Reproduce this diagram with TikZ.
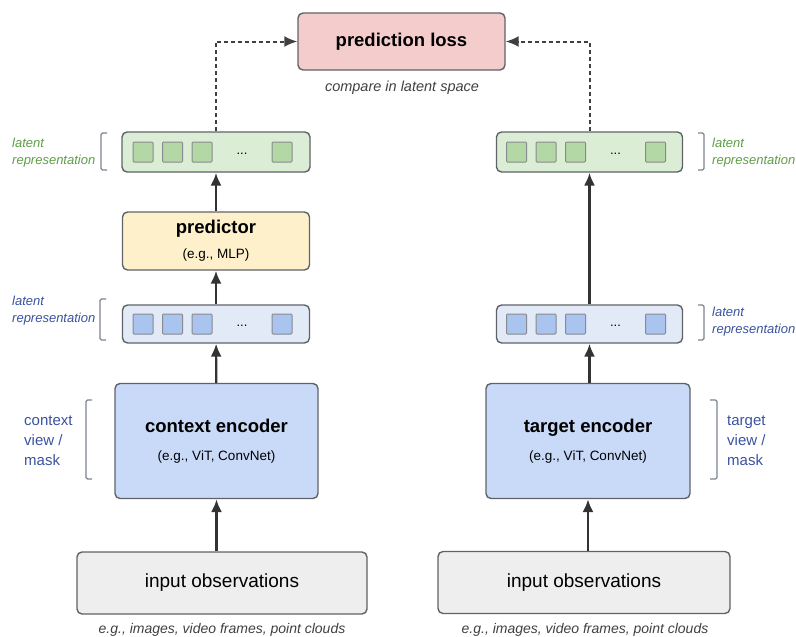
\documentclass[tikz,border=0pt]{standalone}
\usepackage{fontspec}
\setmainfont{Liberation Sans}
\usetikzlibrary{arrows.meta}
\definecolor{lossfill}{HTML}{F4CCCC}
\definecolor{predfill}{HTML}{FDF0CB}
\definecolor{greenfill}{HTML}{DCEDD6}
\definecolor{greensq}{HTML}{B3D8A6}
\definecolor{bluefill}{HTML}{E2EAF8}
\definecolor{bluesq}{HTML}{AAC4F0}
\definecolor{encfill}{HTML}{C9DAF8}
\definecolor{inputfill}{HTML}{EEEEEE}
\definecolor{boxline}{HTML}{5F6368}
\definecolor{greentext}{HTML}{5E9E48}
\definecolor{bluetext}{HTML}{3A52A0}
\definecolor{bracketgray}{HTML}{7B8394}
\tikzset{
  box/.style={draw=boxline, rounded corners=5pt, line width=1.4pt, inner sep=0pt, align=center},
  sq/.style={draw=boxline!75, line width=1pt, minimum size=20pt, inner sep=0pt, rounded corners=1pt},
  flow/.style={line width=2.2pt, draw=black!80, -{Latex[length=13pt,width=11pt]}},
  dashflow/.style={line width=2pt, draw=black!75, dash pattern=on 4pt off 3pt, -{Latex[length=13pt,width=11pt]}},
  bracket/.style={draw=bracketgray, line width=1.4pt, rounded corners=1.5pt},
  big/.style={font=\fontsize{18.5}{22}\selectfont\bfseries},
  note/.style={font=\fontsize{14.5}{17}\selectfont\itshape, text=black!75},
  side/.style={font=\fontsize{13}{17}\selectfont\itshape, align=left, inner sep=0pt}
}
\newcommand{\sub}[2][4pt]{\\[#1]{\fontsize{13.5}{16}\selectfont\mdseries #2}}
\begin{document}
\begin{tikzpicture}[x=1pt, y=-1pt]
    \useasboundingbox (0,0) rectangle (796,637);

    % top: loss
    \node[box, fill=lossfill, minimum width=207, minimum height=57, big] at (401.5, 41.5) (loss) {prediction loss};
    \node[note] at (402, 88) (cmp) {compare in latent space};

    % left column
    \node[box, fill=greenfill, minimum width=188, minimum height=40] at (216, 152) (ltop) {};
    \node[box, fill=predfill, minimum width=187, minimum height=58, big] at (216, 241) (pred) {predictor\sub[3pt]{(e.g., MLP)}};
    \node[box, fill=bluefill, minimum width=187, minimum height=38] at (216, 324) (lbot) {};
    \node[box, fill=encfill, minimum width=203, minimum height=115, big] at (216.5, 441) (cenc) {context encoder\sub[6pt]{(e.g., ViT, ConvNet)}};
    \node[box, fill=inputfill, minimum width=290, minimum height=62, font=\fontsize{19}{22}\selectfont] at (222, 583) (cin) {input observations};
    \node[note, font=\fontsize{14}{17}\selectfont\itshape] at (222, 630) (ccap) {e.g., images, video frames, point clouds};

    % right column
    \node[box, fill=greenfill, minimum width=186, minimum height=40] at (589.5, 152) (rtop) {};
    \node[box, fill=bluefill, minimum width=186, minimum height=38] at (589.5, 324) (rbot) {};
    \node[box, fill=encfill, minimum width=204, minimum height=115, big] at (588, 441) (tenc) {target encoder\sub[6pt]{(e.g., ViT, ConvNet)}};
    \node[box, fill=inputfill, minimum width=292, minimum height=62, font=\fontsize{19}{22}\selectfont] at (584, 582.5) (tin) {input observations};
    \node[note, font=\fontsize{14}{17}\selectfont\itshape] at (585, 630) (tcap) {e.g., images, video frames, point clouds};

    % squares in the latent rows
    \foreach \row/\col in {ltop/greensq, rtop/greensq, lbot/bluesq, rbot/bluesq} {
      \foreach \dx [count=\i] in {-73, -43.5, -14, 66}
        \node[sq, fill=\col] at ([xshift=\dx pt]\row.center) (\row-\i) {};
      \node[font=\fontsize{13}{14}\selectfont, inner sep=0pt, anchor=base] at ([xshift=26pt, yshift=-2pt]\row.center) (\row-dots) {...};
    }

    % arrows
    \draw[flow] (cin.north -| cenc.south) -- (cenc.south);
    \draw[flow] (cenc) -- (lbot);
    \draw[flow] (lbot) -- (pred);
    \draw[flow] (pred) -- (ltop);
    \draw[flow] (tin.north -| tenc.south) -- (tenc.south);
    \draw[flow] (tenc.north -| rbot.south) -- (rbot.south);
    \draw[flow] (rbot.north) -- (rtop.south);
    \draw[dashflow] (ltop.north) |- (loss.west);
    \draw[dashflow] (rtop.north) |- (loss.east);

    % side labels
    \node[side, text=greentext, anchor=west] at (12, 153) (ltoplab) {latent\\representation};
    \node[side, text=bluetext, anchor=west] at (12, 311) (lbotlab) {latent\\representation};
    \node[font=\fontsize{15}{20}\selectfont, text=bluetext, align=left, inner sep=0pt, anchor=west] at (24, 441) (cview) {context\\view /\\mask};
    \node[side, text=greentext, anchor=west] at (712, 153) (rtoplab) {latent\\representation};
    \node[side, text=bluetext, anchor=west] at (712, 322) (rbotlab) {latent\\representation};
    \node[font=\fontsize{15}{20}\selectfont, text=bluetext, align=left, inner sep=0pt, anchor=west] at (727, 441) (tview) {target\\view /\\mask};

    % brackets
    \draw[bracket] (107,133) -- (101,133) -- (101,170) -- (107,170);
    \draw[bracket] (106,299) -- (100,299) -- (100,340) -- (106,340);
    \draw[bracket] (92,400) -- (86,400) -- (86,479) -- (92,479);
    \draw[bracket] (698,133) -- (704,133) -- (704,170) -- (698,170);
    \draw[bracket] (698,305) -- (704,305) -- (704,340) -- (698,340);
    \draw[bracket] (710,400) -- (717,400) -- (717,479) -- (710,479);
\end{tikzpicture}
\end{document}
